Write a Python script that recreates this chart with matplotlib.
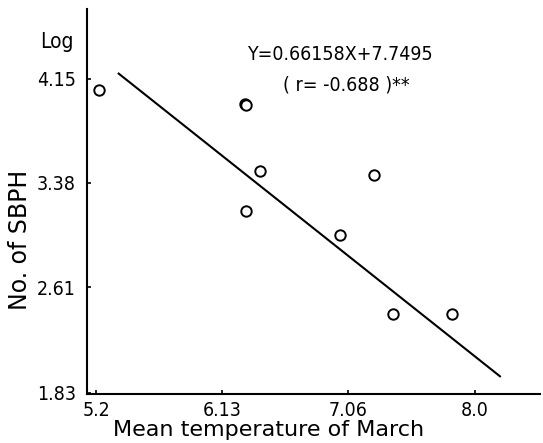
import matplotlib
matplotlib.use("Agg")
import matplotlib.pyplot as plt

# Data
temps = [5.22, 6.30, 6.305, 6.41, 6.31, 7.25, 7.00, 7.39, 7.83]
log_sbph = [4.068, 3.962, 3.958, 3.467, 3.172, 3.438, 2.994, 2.411, 2.411]
line_x = [5.36, 8.19]
line_y = [4.191, 1.946]
x_ticks = [5.2, 6.13, 7.06, 8.0]
x_tick_labels = ["5.2", "6.13", "7.06", "8.0"]
y_ticks = [1.83, 2.61, 3.38, 4.15]
y_tick_labels = ["1.83", "2.61", "3.38", "4.15"]

plt.rcParams['font.family'] = ['DejaVu Sans']
plt.rcParams['font.stretch'] = 'condensed'

fig = plt.figure(figsize=(5.43, 4.43), dpi=100)
ax = fig.add_axes([0.160, 0.1106, 0.8345, 0.869])

ax.plot(line_x, line_y, color='black', lw=1.5, solid_capstyle='butt')
ax.plot(temps, log_sbph, linestyle='none', marker='o', markersize=7.5,
        markerfacecolor='white', markeredgecolor='black', markeredgewidth=1.4)

ax.set_xlim(5.131, 8.48)
ax.set_ylim(1.82, 4.663)
ax.set_xticks(x_ticks)
ax.set_xticklabels(x_tick_labels)
ax.set_yticks(y_ticks)
ax.set_yticklabels(y_tick_labels)

for s in ['top', 'right']:
    ax.spines[s].set_visible(False)
for s in ['left', 'bottom']:
    ax.spines[s].set_linewidth(1.5)

ax.tick_params(axis='both', direction='in', length=3, width=1.2, labelsize=14)
ax.tick_params(axis='y', pad=8)
ax.tick_params(axis='x', pad=5)

ax.set_ylabel("No. of SBPH", fontsize=17, fontstretch='normal')
ax.yaxis.set_label_coords(-0.148, 0.40)
ax.set_xlabel("Mean temperature of March", fontsize=16, fontstretch='normal')
ax.xaxis.set_label_coords(0.40, -0.094)
ax.xaxis.label.set_va('center')
ax.yaxis.label.set_va('center')

ax.text(-0.066, 0.914, "Log", transform=ax.transAxes, fontsize=15,
        ha='center', va='center')
ax.text(7.0, 4.33, "Y=0.66158X+7.7495", fontsize=14, ha='center', va='center')
ax.text(7.05, 4.10, "( r= -0.688 )**", fontsize=14, ha='center', va='center')

fig.savefig("out.png", dpi=100)
